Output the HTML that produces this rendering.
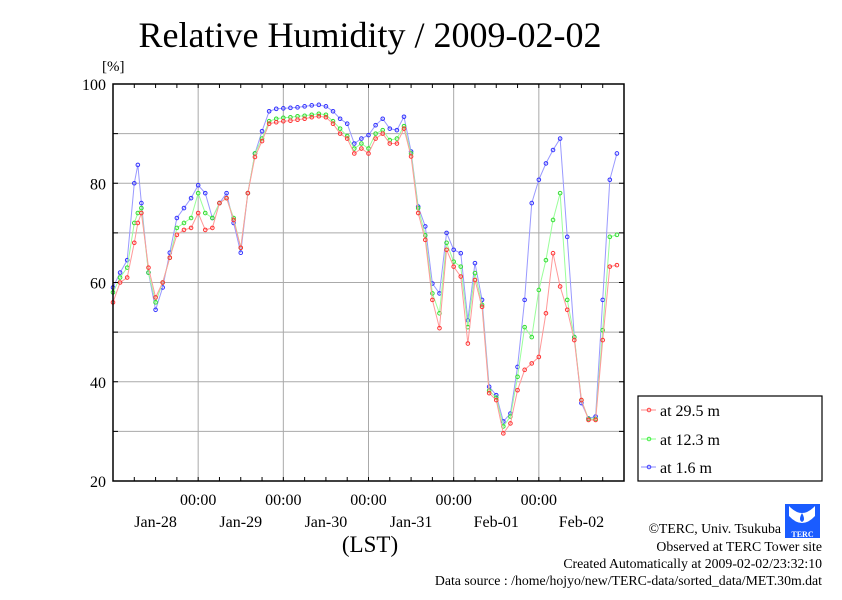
<!DOCTYPE html>
<html><head><meta charset="utf-8">
<style>
body{margin:0;background:#fff;}
svg text{font-family:"Liberation Serif",serif;}
</style></head>
<body>
<svg id="chart" width="842" height="595" viewBox="0 0 842 595" xmlns="http://www.w3.org/2000/svg">
<rect width="842" height="595" fill="#fff"/>
<text x="370" y="47" font-size="36" text-anchor="middle">Relative Humidity / 2009-02-02</text>
<text x="102" y="71" font-size="15">[%]</text>
<g id="grid"></g>
<g id="series"></g>
<rect x="113" y="84" width="511" height="397" fill="none" stroke="#000" stroke-width="1.5"/>
<g id="axes"></g>
<text x="370" y="552" font-size="23" text-anchor="middle">(LST)</text>
<g>
<rect x="638" y="396" width="184" height="85" fill="#fff" stroke="#000" stroke-width="1.2"/>
<g><line x1="641" y1="410" x2="656" y2="410" stroke="#f88"/><circle cx="649" cy="410" r="1.8" fill="none" stroke="#f44"/><text x="660" y="416" font-size="16">at 29.5 m</text></g>
<g><line x1="641" y1="439" x2="656" y2="439" stroke="#8f8"/><circle cx="649" cy="439" r="1.8" fill="none" stroke="#4e4"/><text x="660" y="445" font-size="16">at 12.3 m</text></g>
<g><line x1="641" y1="467" x2="656" y2="467" stroke="#88f"/><circle cx="649" cy="467" r="1.8" fill="none" stroke="#44f"/><text x="660" y="473" font-size="16">at 1.6 m</text></g>
</g>
<g>
<rect x="785" y="504" width="35" height="34" fill="#1a5cff"/>
<path d="M789 506 Q802 520 815 506 L815 516 Q802 530 789 516Z" fill="#fff"/>
<path d="M802 513 Q806 520 802 522 Q798 520 802 513Z" fill="#1a5cff"/>
<text x="802.5" y="537" font-size="8" fill="#fff" text-anchor="middle" font-weight="bold">TERC</text>
</g>
<g font-size="13.8" text-anchor="end">
<text x="781" y="533">©TERC, Univ. Tsukuba</text>
<text x="822" y="551">Observed at TERC Tower site</text>
<text x="822" y="568">Created Automatically at 2009-02-02/23:32:10</text>
<text x="822" y="585">Data source : /home/hojyo/new/TERC-data/sorted_data/MET.30m.dat</text>
</g>
</svg>
<script>
const hours=[0,2,4,6,7,8,10,12,14,16,18,20,22,24,26,28,30,32,34,36,38,40,42,44,46,48,50,52,54,56,58,60,62,64,66,68,70,72,74,76,78,80,82,84,86,88,90,92,94,96,98,100,102,104,106,108,110,112,114,116,118,120,122,124,126,128,130,132,134,136,138,140,142];
const rh295=[56,60,61,68,72,74,63,57,60,65,69.6,70.6,71,74,70.6,71,76,77,72.6,67,78,85.3,88.5,92,92.3,92.5,92.6,92.8,93,93.3,93.5,93.3,92,90,89,86,87,86,89,90,88,88,91,85.4,74,68.6,56.5,50.8,66.6,63.2,61.2,47.7,60.5,55.1,37.7,36.3,29.6,31.6,38.3,42.4,43.7,45,53.8,65.9,59.2,54.5,48.4,36.3,32.3,32.3,48.4,63.2,63.5];
const rh123=[58,61,63,72,74,75,62,56,60,65,71,72,73,78,74,73,76,77,73,67,78,86,89,92.5,93,93.2,93.3,93.5,93.6,93.8,94,93.8,92.5,91,89.5,87,88,87,90,90.7,88.7,89,91.5,86,75,69.5,57.8,53.8,68,64.2,63.2,51,61.9,55.5,38.2,36.8,31,33,41,51,49,58.5,64.5,72.6,78,56.5,49,36.3,32.5,32.5,50.4,69.2,69.6];
const rh16=[59,62,64.5,80,83.7,76,62,54.5,59,66,73,75,77,79.6,78,73,76,78,72,66,78,86,90.5,94.5,95,95.1,95.2,95.3,95.5,95.7,95.8,95.5,94.5,93,92,88,89,89.7,91.7,93,91,90.7,93.4,86.4,75.3,71.3,59.8,57.8,70,66.6,65.9,52.4,63.9,56.5,39,37.3,32,33.6,43,56.5,76,80.7,84,86.7,89,69.2,49,35.7,32.6,33,56.5,80.7,86];
const yTicks=[20,40,60,80,100];
const xTickHours=[24,48,72,96,120];
const dateLabels=["Jan-28","Jan-29","Jan-30","Jan-31","Feb-01","Feb-02"];
const NS="http://www.w3.org/2000/svg";
const X0=113,X1=624,Y0=481,Y1=84;
function xs(h){return X0+h/144*(X1-X0);}
function ys(v){return Y0-(v-20)/80*(Y0-Y1);}
function mk(tag,attrs,parent){const e=document.createElementNS(NS,tag);for(const k in attrs)e.setAttribute(k,attrs[k]);parent.appendChild(e);return e;}
const grid=document.getElementById('grid'),axes=document.getElementById('axes'),ser=document.getElementById('series');
for(let v=30;v<100;v+=10){const l=mk('line',{x1:X0,x2:X1,y1:ys(v),y2:ys(v),stroke:'#aaa','stroke-width':1},grid);

}
xTickHours.forEach(h=>{const l=mk('line',{x1:xs(h),x2:xs(h),y1:Y1,y2:Y0,stroke:'#aaa','stroke-width':1},grid);


const t=mk('text',{x:xs(h),y:505,'font-size':16,'text-anchor':'middle'},axes);t.textContent='00:00';

});
for(let h=6;h<144;h+=6){mk('line',{x1:xs(h),x2:xs(h),y1:Y1,y2:Y1+4,stroke:'#000'},axes);mk('line',{x1:xs(h),x2:xs(h),y1:Y0,y2:Y0-4,stroke:'#000'},axes);}
dateLabels.forEach((d,i)=>{const t=mk('text',{x:xs(i*24+12),y:527,'font-size':16,'text-anchor':'middle'},axes);t.textContent=d;

});
yTicks.forEach(v=>{const t=mk('text',{x:106,y:ys(v)+6,'font-size':16,'text-anchor':'end'},axes);t.textContent=v;

});
for(let v=30;v<100;v+=10){mk('line',{x1:X0,x2:X0+5,y1:ys(v),y2:ys(v),stroke:'#000'},axes);mk('line',{x1:X1,x2:X1-5,y1:ys(v),y2:ys(v),stroke:'#000'},axes);}
function draw(vals,line,dot,name){
const g=mk('g',{},ser);


mk('polyline',{points:vals.map((v,i)=>xs(hours[i])+','+ys(v)).join(' '),fill:'none',stroke:line,'stroke-width':1},g);
vals.forEach((v,i)=>{const c=mk('circle',{cx:xs(hours[i]),cy:ys(v),r:1.8,fill:'none',stroke:dot,'stroke-width':1},g);

});}
draw(rh16,'#99f','#33f','series-1.6m');
draw(rh123,'#9f9','#3d3','series-12.3m');
draw(rh295,'#f99','#f33','series-29.5m');
</script>
</body></html>
